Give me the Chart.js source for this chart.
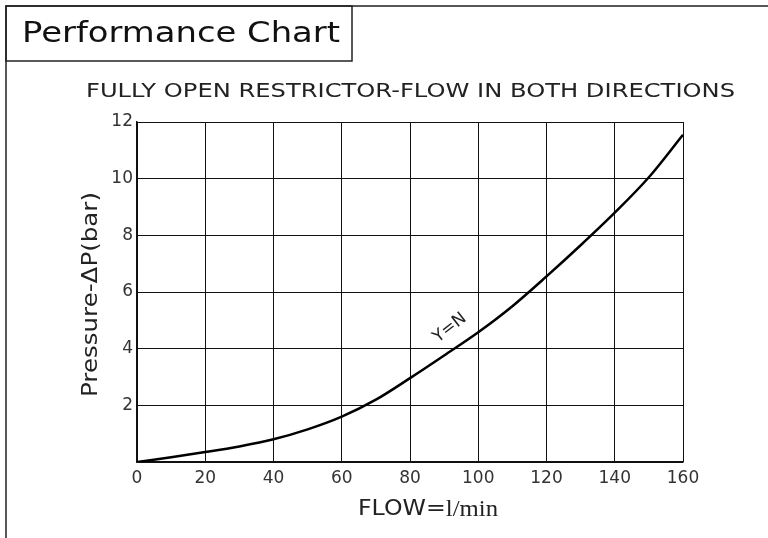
<!DOCTYPE html>
<html>
<head>
<meta charset="utf-8">
<script src="https://cdn.jsdelivr.net/npm/chart.js@4"></script>
<style>
  html, body { margin: 0; padding: 0; background: #fff; }
  #wrap { position: relative; width: 768px; height: 538px; }
</style>
</head>
<body>
<div id="wrap"><canvas id="perfChart" width="768" height="538"></canvas></div>
<script>
// data
const flow = [0, 10, 20, 30, 40, 50, 60, 70, 80, 90, 100, 110, 120, 130, 140, 150, 160];
const pressure = [0, 0.17, 0.35, 0.55, 0.8, 1.15, 1.6, 2.2, 2.96, 3.76, 4.58, 5.5, 6.55, 7.65, 8.8, 10.05, 11.55];
const xTicks = [0, 20, 40, 60, 80, 100, 120, 140, 160];
const yTicks = [0, 2, 4, 6, 8, 10, 12];

const FONT = "'DejaVu Sans', sans-serif";

// draw a text stretched to a given width (the original face is a wide one)
function wideText(ctx, text, left, width, y) {
  const w = ctx.measureText(text).width;
  ctx.save();
  ctx.translate(left, y);
  ctx.scale(width / w, 1);
  ctx.textAlign = "left";
  ctx.fillText(text, 0, 0);
  ctx.restore();
}

// frame, title box and the extra texts
const decor = {
  id: "decor",
  afterDraw(chart) {
    const ctx = chart.ctx;
    ctx.save();
    ctx.strokeStyle = "#222";
    ctx.lineWidth = 1.5;
    ctx.beginPath();
    ctx.moveTo(6, 538);
    ctx.lineTo(6, 6);
    ctx.lineTo(768, 6);
    ctx.stroke();
    ctx.strokeRect(6, 6, 346, 55);

    ctx.textBaseline = "middle";
    ctx.fillStyle = "#111";
    ctx.font = "28px " + FONT;
    wideText(ctx, "Performance Chart", 22, 318, 35);

    ctx.fillStyle = "#222";
    ctx.font = "20px " + FONT;
    wideText(ctx, "FULLY OPEN RESTRICTOR-FLOW IN BOTH DIRECTIONS", 86, 649, 92);

    // x title, mixed fonts
    const part1 = "FLOW=";
    const part2 = "l/min";
    ctx.font = "22px " + FONT;
    const w1 = ctx.measureText(part1).width;
    ctx.font = "23px 'Liberation Serif', serif";
    const w2 = ctx.measureText(part2).width;
    const sx = 140 / (w1 + w2);
    ctx.save();
    ctx.translate(358, 509);
    ctx.scale(sx, 1);
    ctx.textAlign = "left";
    ctx.font = "22px " + FONT;
    ctx.fillText(part1, 0, 0);
    ctx.font = "23px 'Liberation Serif', serif";
    ctx.fillText(part2, w1, 1);
    ctx.restore();

    // y title
    ctx.save();
    ctx.translate(91, 397);
    ctx.rotate(-Math.PI / 2);
    ctx.font = "22px " + FONT;
    wideText(ctx, "Pressure-\u0394P(bar)", 0, 205, 0);
    ctx.restore();

    // curve label
    const xs = chart.scales.x, ys = chart.scales.y;
    ctx.save();
    ctx.translate(xs.getPixelForValue(91.7), ys.getPixelForValue(4.73));
    ctx.rotate(-38 * Math.PI / 180);
    ctx.textAlign = "center";
    ctx.font = "17px " + FONT;
    ctx.fillText("Y=N", 0, 0);
    ctx.restore();

    ctx.restore();
  }
};

new Chart(document.getElementById("perfChart"), {
  type: "line",
  data: {
    datasets: [{
      data: flow.map((f, i) => ({ x: f, y: pressure[i] })),
      borderColor: "#000",
      borderWidth: 2.5,
      pointRadius: 0,
      cubicInterpolationMode: "monotone",
      fill: false
    }]
  },
  options: {
    responsive: false,
    animation: false,
    layout: { padding: { top: 122, right: 85, left: 0, bottom: 0 } },
    plugins: { legend: { display: false }, tooltip: { enabled: false }, title: { display: false } },
    scales: {
      x: {
        type: "linear",
        min: 0,
        max: 160,
        afterBuildTicks: (s) => { s.ticks = xTicks.map(v => ({ value: v })); },
        afterFit: (s) => { s.height = 76; },
        grid: { color: "#111", lineWidth: 1, drawTicks: false },
        border: { color: "#111", width: 1.5 },
        ticks: { color: "#333", font: { family: FONT, size: 17 }, padding: 6 }
      },
      y: {
        min: 0,
        max: 12,
        afterBuildTicks: (s) => { s.ticks = yTicks.map(v => ({ value: v })); },
        afterFit: (s) => { s.width = 137; },
        grid: { color: "#111", lineWidth: 1, drawTicks: false },
        border: { color: "#111", width: 1.5 },
        ticks: {
          color: "#333",
          font: { family: FONT, size: 17 },
          padding: 4,
          callback: (v) => (v === 0 ? "" : v)
        }
      }
    }
  },
  plugins: [decor]
});
</script>
</body>
</html>
